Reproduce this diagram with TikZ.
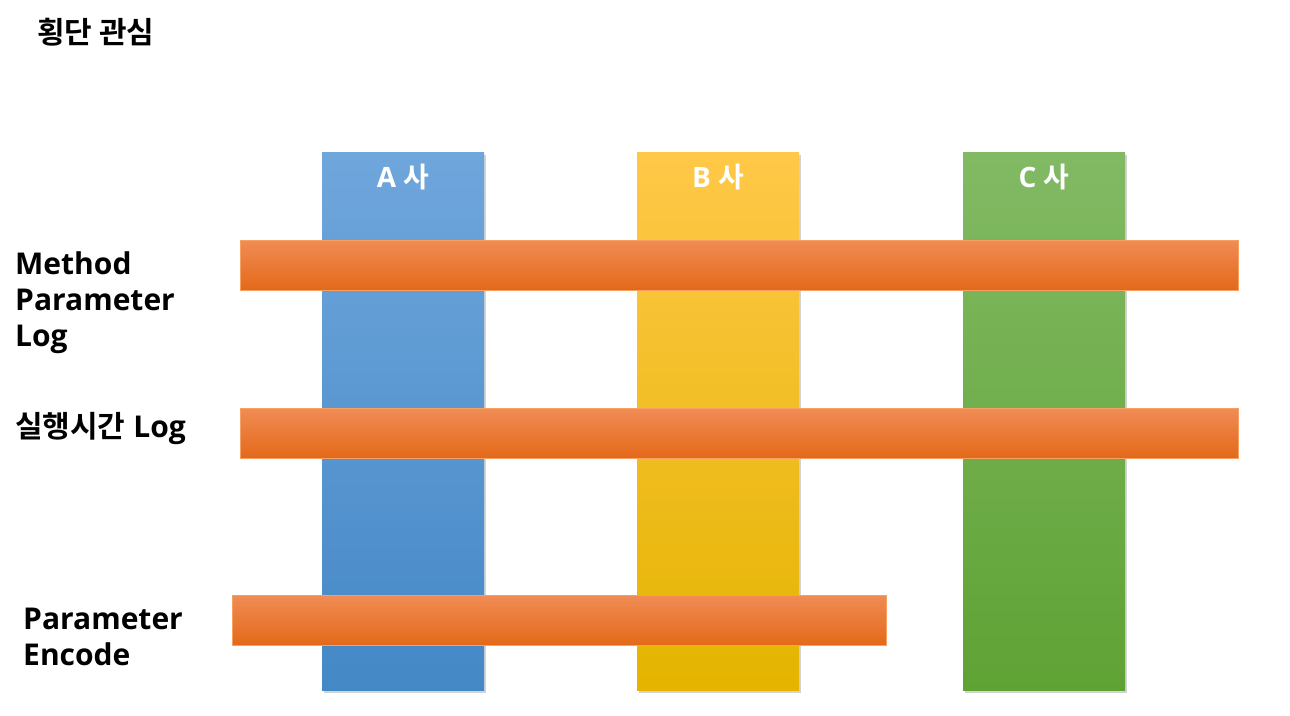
\documentclass[tikz,border=0pt]{standalone}
\usepackage{fontspec}
\setmainfont{Open Sans}
\newfontfamily\kr{Noto Sans CJK KR}[BoldFont={Noto Sans CJK KR Bold}]
\usepackage{tikz}
\usetikzlibrary{positioning,shadows}
\definecolor{bluetop}{RGB}{111,166,220}
\definecolor{bluebot}{RGB}{68,136,198}
\definecolor{goldtop}{RGB}{255,200,72}
\definecolor{goldmid}{RGB}{252,196,24}
\definecolor{goldbot}{RGB}{228,180,0}
\definecolor{greentop}{RGB}{130,186,100}
\definecolor{greenbot}{RGB}{95,162,52}
\definecolor{orangetop}{RGB}{240,140,85}
\definecolor{orangemid}{RGB}{246,125,40}
\definecolor{orangebot}{RGB}{228,105,25}
\definecolor{orangeline}{RGB}{246,160,100}

\begin{document}
\begin{tikzpicture}[x=1pt,y=-1pt,
  every node/.style={font=\bfseries\fontsize{30}{36}\selectfont,align=left,inner sep=0pt},
  company/.style={anchor=north,minimum width=162pt,minimum height=538pt,
    drop shadow={shadow xshift=2pt,shadow yshift=-3pt,opacity=0.35}},
  concern/.style={minimum height=50pt,draw=orangeline,line width=0.8pt,
    top color=orangetop,middle color=orangemid,bottom color=orangebot},
  colname/.style={font=\bfseries\fontsize{28}{34}\selectfont,text=white,anchor=base}]
  \useasboundingbox (0,0) rectangle (1290,715);
  \node[anchor=base west,font=\kr\bfseries\fontsize{30}{36}\selectfont] (title) at (37,43) {횡단 관심};

  \node[company,top color=bluetop,bottom color=bluebot] (compA) at (403,152) {};
  \node[company,top color=goldtop,middle color=goldmid,bottom color=goldbot] (compB) at (718,152) {};
  \node[company,top color=greentop,bottom color=greenbot] (compC) at (1044,152) {};
  \node[colname] (nameA) at (403,187) {A {\kr 사}};
  \node[colname] (nameB) at (718,187) {B {\kr 사}};
  \node[colname] (nameC) at (1044,187) {C {\kr 사}};

  \node[concern,minimum width=998pt] (logparam) at (739,265) {};
  \node[concern,minimum width=998pt] (logtime) at (739,433) {};
  \node[concern,minimum width=654pt] (encode) at (559,620) {};

  \node[anchor=north west] (lblparam) at (15,252) {Method\\Parameter\\Log};
  \node[anchor=base west] (lbltime) at (15,437) {{\kr 실행시간} Log};
  \node[anchor=north west] (lblencode) at (23,608) {Parameter\\Encode};
\end{tikzpicture}
\end{document}
